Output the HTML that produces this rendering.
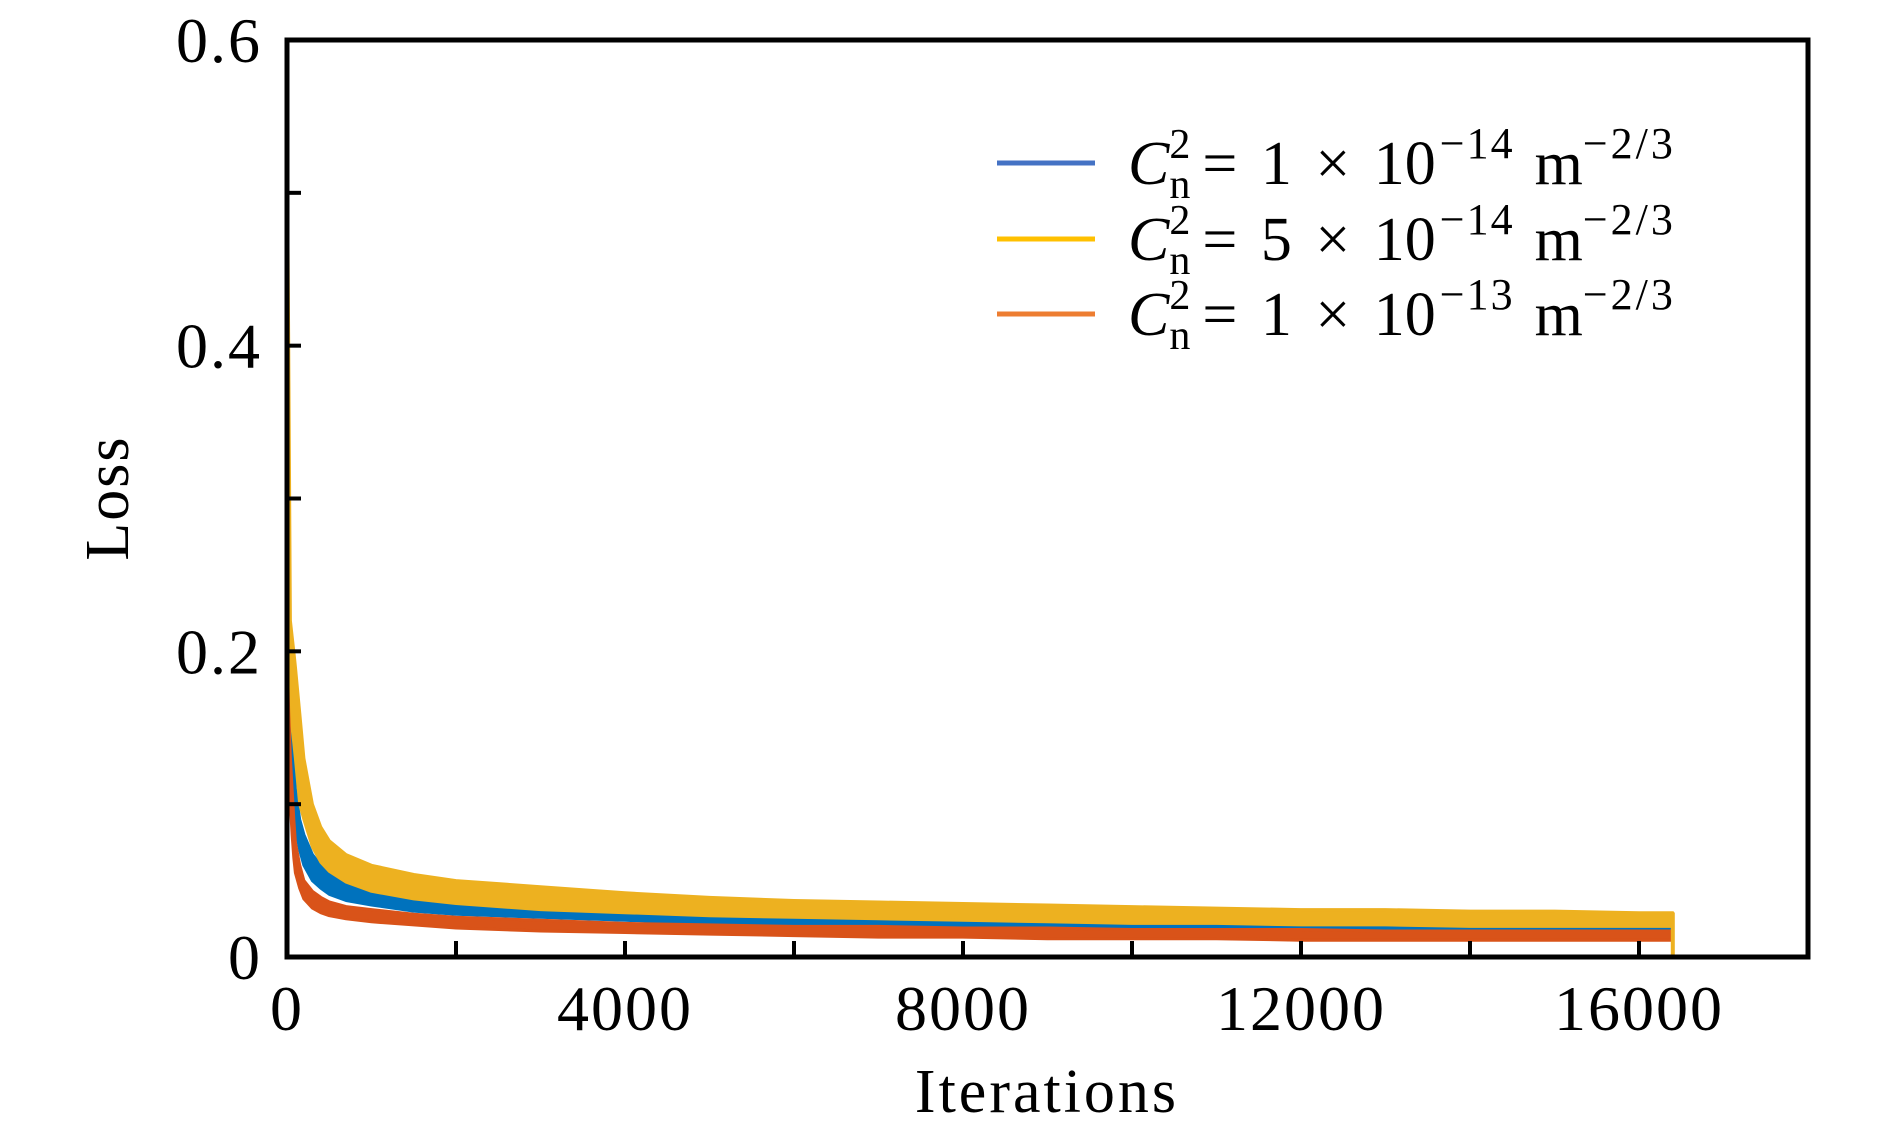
<!DOCTYPE html>
<html><head><meta charset="utf-8"><style>
html,body{margin:0;padding:0;background:#fff;}
svg text{font-family:"Liberation Serif",serif;fill:#000;}
</style></head><body>
<svg id="chart" width="1890" height="1134" viewBox="0 0 1890 1134" xmlns="http://www.w3.org/2000/svg">
<g id="series"></g>
<rect x="287" y="40" width="1521" height="917" fill="none" stroke="#000" stroke-width="5"/>
<g id="ticks"></g>
<text x="1047" y="1112" font-size="62" letter-spacing="3" text-anchor="middle">Iterations</text>
<text x="0" y="0" font-size="62" letter-spacing="2" text-anchor="middle" transform="translate(128,498) rotate(-90)">Loss</text>
<g font-size="62">
  <line x1="997" y1="163" x2="1095" y2="163" stroke="#4472C4" stroke-width="5"/>
  <line x1="997" y1="239" x2="1095" y2="239" stroke="#FFC000" stroke-width="5"/>
  <line x1="997" y1="314" x2="1095" y2="314" stroke="#ED7D31" stroke-width="5"/>
  <text x="1128" y="184" word-spacing="8"><tspan font-style="italic">C</tspan><tspan font-size="42" dy="-26">2</tspan><tspan font-size="42" dx="-21" dy="40">n</tspan><tspan dy="-14" dx="12">= 1 × 10</tspan><tspan font-size="44" dy="-26" dx="4" letter-spacing="2">−14</tspan><tspan dy="26" dx="20">m</tspan><tspan font-size="44" dy="-26" letter-spacing="3">−2/3</tspan></text>
  <text x="1128" y="260" word-spacing="8"><tspan font-style="italic">C</tspan><tspan font-size="42" dy="-26">2</tspan><tspan font-size="42" dx="-21" dy="40">n</tspan><tspan dy="-14" dx="12">= 5 × 10</tspan><tspan font-size="44" dy="-26" dx="4" letter-spacing="2">−14</tspan><tspan dy="26" dx="20">m</tspan><tspan font-size="44" dy="-26" letter-spacing="3">−2/3</tspan></text>
  <text x="1128" y="335" word-spacing="8"><tspan font-style="italic">C</tspan><tspan font-size="42" dy="-26">2</tspan><tspan font-size="42" dx="-21" dy="40">n</tspan><tspan dy="-14" dx="12">= 1 × 10</tspan><tspan font-size="44" dy="-26" dx="4" letter-spacing="2">−13</tspan><tspan dy="26" dx="20">m</tspan><tspan font-size="44" dy="-26" letter-spacing="3">−2/3</tspan></text>
</g>
</svg>
<script>
const iterations = [0,20,40,60,80,100,150,200,300,400,500,700,1000,1500,2000,3000,4000,5000,6000,7000,8000,9000,10000,11000,12000,13000,14000,15000,16000,16400];
const blueUpper = [.23,.2,.17,.15,.13,.11,.09,.08,.067,.06,.056,.051,.047,.042,.039,.036,.033,.031,.029,.028,.027,.026,.025,.025,.024,.024,.023,.023,.023,.023];
const blueLower = [.21,.17,.14,.12,.10,.085,.07,.06,.05,.045,.041,.037,.034,.030,.028,.026,.024,.022,.021,.020,.020,.019,.019,.018,.018,.018,.018,.017,.017,.017];
const yellowUpper = [.56,.40,.22,.21,.2,.19,.16,.13,.1,.085,.076,.067,.06,.054,.05,.046,.042,.039,.037,.036,.035,.034,.033,.032,.031,.031,.030,.030,.029,.029];
const yellowLower = [.30,.18,.17,.15,.14,.13,.1,.09,.072,.062,.056,.049,.043,.038,.035,.031,.029,.027,.026,.025,.024,.023,.022,.022,.021,.021,.020,.020,.020,.020];
const orangeUpper = [.20,.16,.13,.11,.09,.075,.06,.05,.043,.039,.036,.033,.031,.028,.026,.024,.022,.021,.020,.020,.019,.019,.018,.018,.018,.017,.017,.017,.017,.017];
const orangeLower = [.18,.13,.10,.08,.065,.055,.045,.038,.032,.029,.027,.025,.023,.021,.019,.017,.016,.015,.014,.013,.013,.012,.012,.012,.011,.011,.011,.011,.011,.011];
const xTicks = [0,2000,4000,6000,8000,10000,12000,14000,16000,18000];
const xTickLabels = ["0","","4000","","8000","","12000","","16000",""];
const yTicks = [0,0.1,0.2,0.3,0.4,0.5,0.6];
const yTickLabels = ["0","","0.2","","0.4","","0.6"];

const X0=287,X1=1808,Y0=957,Y1=40;
const xs = v => X0 + v/18000*(X1-X0);
const ys = v => Y0 - v/0.6*(Y0-Y1);
const NS="http://www.w3.org/2000/svg";
const sg=document.getElementById('series');
function band(up,lo,color,name){
  let d='';
  iterations.forEach((x,i)=>{d+=(i?'L':'M')+xs(x).toFixed(1)+','+ys(up[i]).toFixed(1);});
  for(let i=iterations.length-1;i>=0;i--){d+='L'+xs(iterations[i]).toFixed(1)+','+ys(lo[i]).toFixed(1);}
  d+='Z';
  const p=document.createElementNS(NS,'path');
  p.setAttribute('d',d);p.setAttribute('fill',color);p.setAttribute('stroke',color);p.setAttribute('stroke-width','3');p.setAttribute('stroke-linejoin','round');
  
  
  sg.appendChild(p);
}
band(blueUpper,blueLower,'#0072BD','series-1e-14');
band(yellowUpper,yellowLower,'#EDB120','series-5e-14');
band(orangeUpper,orangeLower,'#D95319','series-1e-13');
const last=iterations.length-1;
const dl=document.createElementNS(NS,'line');
dl.setAttribute('x1',xs(iterations[last]));dl.setAttribute('x2',xs(iterations[last]));
dl.setAttribute('y1',ys(yellowUpper[last]));dl.setAttribute('y2',ys(0));
dl.setAttribute('stroke','#EDB120');dl.setAttribute('stroke-width','4');


sg.appendChild(dl);

const tg=document.getElementById('ticks');
xTicks.forEach((t,i)=>{
  const x=xs(t);
  if(i>0&&i<xTicks.length-1){
    const l=document.createElementNS(NS,'line');
    l.setAttribute('x1',x);l.setAttribute('x2',x);l.setAttribute('y1',Y0);l.setAttribute('y2',Y0-16);
    l.setAttribute('stroke','#000');l.setAttribute('stroke-width','4');
    
    
    tg.appendChild(l);
  }
  if(xTickLabels[i]){
    const tx=document.createElementNS(NS,'text');
    tx.setAttribute('x',x);tx.setAttribute('y',1030);tx.setAttribute('font-size','64');tx.setAttribute('letter-spacing','2');tx.setAttribute('text-anchor','middle');
    tx.textContent=xTickLabels[i];
    
    
    tg.appendChild(tx);
  }
});
yTicks.forEach((t,i)=>{
  const y=ys(t);
  if(i>0&&i<yTicks.length-1){
    const l=document.createElementNS(NS,'line');
    l.setAttribute('x1',X0);l.setAttribute('x2',X0+14);l.setAttribute('y1',y);l.setAttribute('y2',y);
    l.setAttribute('stroke','#000');l.setAttribute('stroke-width','4');
    
    
    tg.appendChild(l);
  }
  if(yTickLabels[i]){
    const tx=document.createElementNS(NS,'text');
    tx.setAttribute('x',262);tx.setAttribute('y',y+22);tx.setAttribute('font-size','64');tx.setAttribute('letter-spacing','2');tx.setAttribute('text-anchor','end');
    tx.textContent=yTickLabels[i];
    
    
    tg.appendChild(tx);
  }
});
</script>
</body></html>
